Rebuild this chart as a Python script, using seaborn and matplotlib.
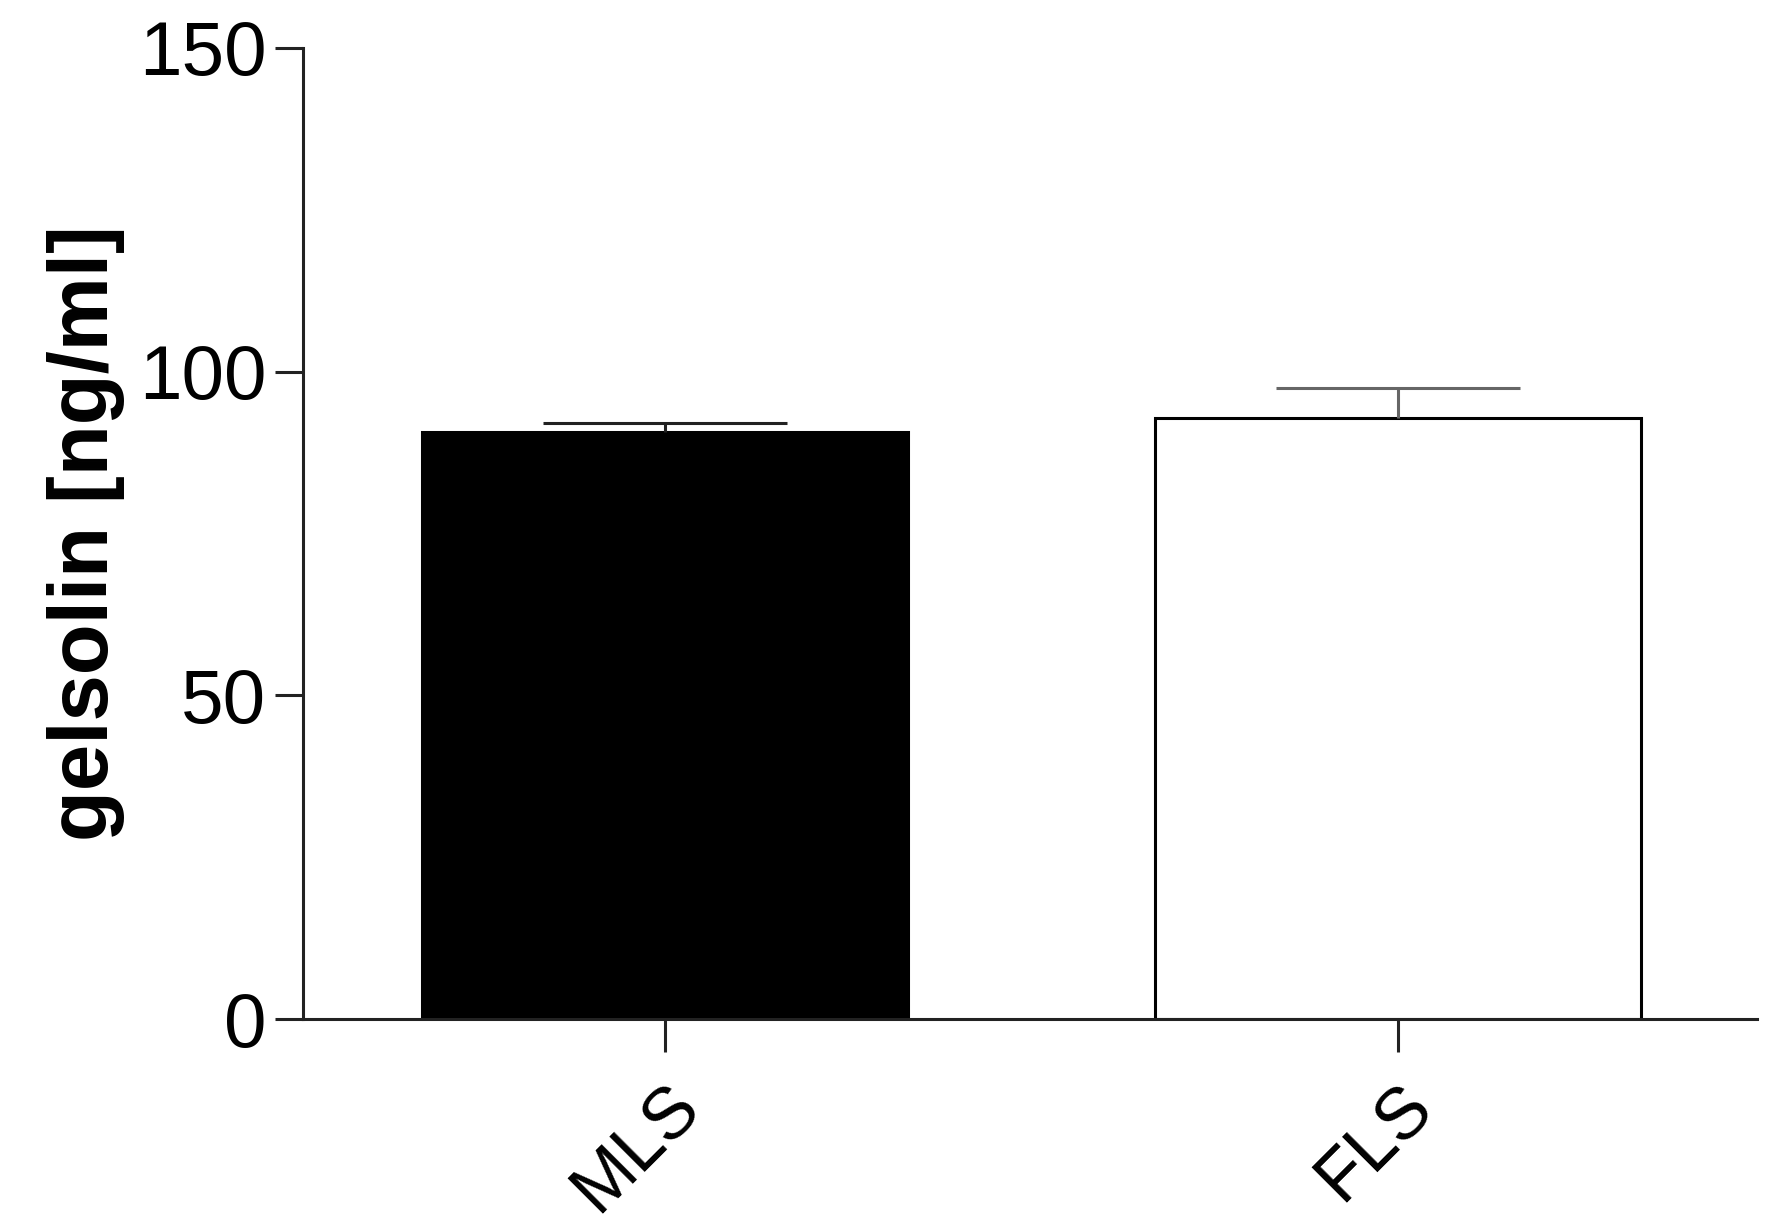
import matplotlib
matplotlib.use("Agg")
import matplotlib.pyplot as plt
import seaborn as sns
import pandas as pd

categories = ["MLS", "FLS"]
means = [90.6, 92.9]
sems = [1.4, 4.6]
bar_colors = ["black", "white"]
err_colors = ["#222222", "#666666"]
y_ticks = [0, 50, 100, 150]

sns.set_theme(style="ticks")
plt.rcParams['font.family'] = ['Liberation Sans', 'DejaVu Sans']
plt.rcParams['text.color'] = 'black'
plt.rcParams['xtick.labelcolor'] = 'black'
plt.rcParams['ytick.labelcolor'] = 'black'
plt.rcParams['axes.labelcolor'] = 'black'

fig = plt.figure(figsize=(17.8, 12.27), dpi=100)
ax = fig.add_axes([0.170, 0.1695, 0.817, 0.7915])

df = pd.DataFrame({"group": categories, "value": means})
sns.barplot(data=df, x="group", y="value", hue="group", palette=bar_colors,
            edgecolor="black", linewidth=2.2, width=0.663, legend=False, ax=ax,
            errorbar=None)

for i, (m, s, c) in enumerate(zip(means, sems, err_colors)):
    _, caps, _ = ax.errorbar(i, m, yerr=[[0], [s]], fmt="none", ecolor=c,
                             elinewidth=2.2, capsize=88, capthick=2.2, zorder=5)
    if len(caps) == 2:
        caps[0].set_visible(False)

ax.set_xlim(-0.495, 1.49)
ax.set_ylim(0, 150)
ax.set_yticks(y_ticks)
ax.set_yticklabels([str(t) for t in y_ticks], fontsize=55)
ax.set_xticks([0, 1])
ax.set_xticklabels(categories, fontsize=52, rotation=45, ha="right",
                   rotation_mode="anchor")
ax.set_xlabel("")
ax.set_ylabel("gelsolin [ng/ml]", fontsize=60, fontweight="bold", labelpad=10)

for side in ["top", "right"]:
    ax.spines[side].set_visible(False)
for side in ["left", "bottom"]:
    ax.spines[side].set_linewidth(2.2)
    ax.spines[side].set_color("#222222")
ax.tick_params(axis="y", length=20, width=2.2, color="#222222", pad=6)
ax.tick_params(axis="x", length=24, width=2.2, color="#222222", pad=14)

fig.savefig("out.png", dpi=100, facecolor="white")
